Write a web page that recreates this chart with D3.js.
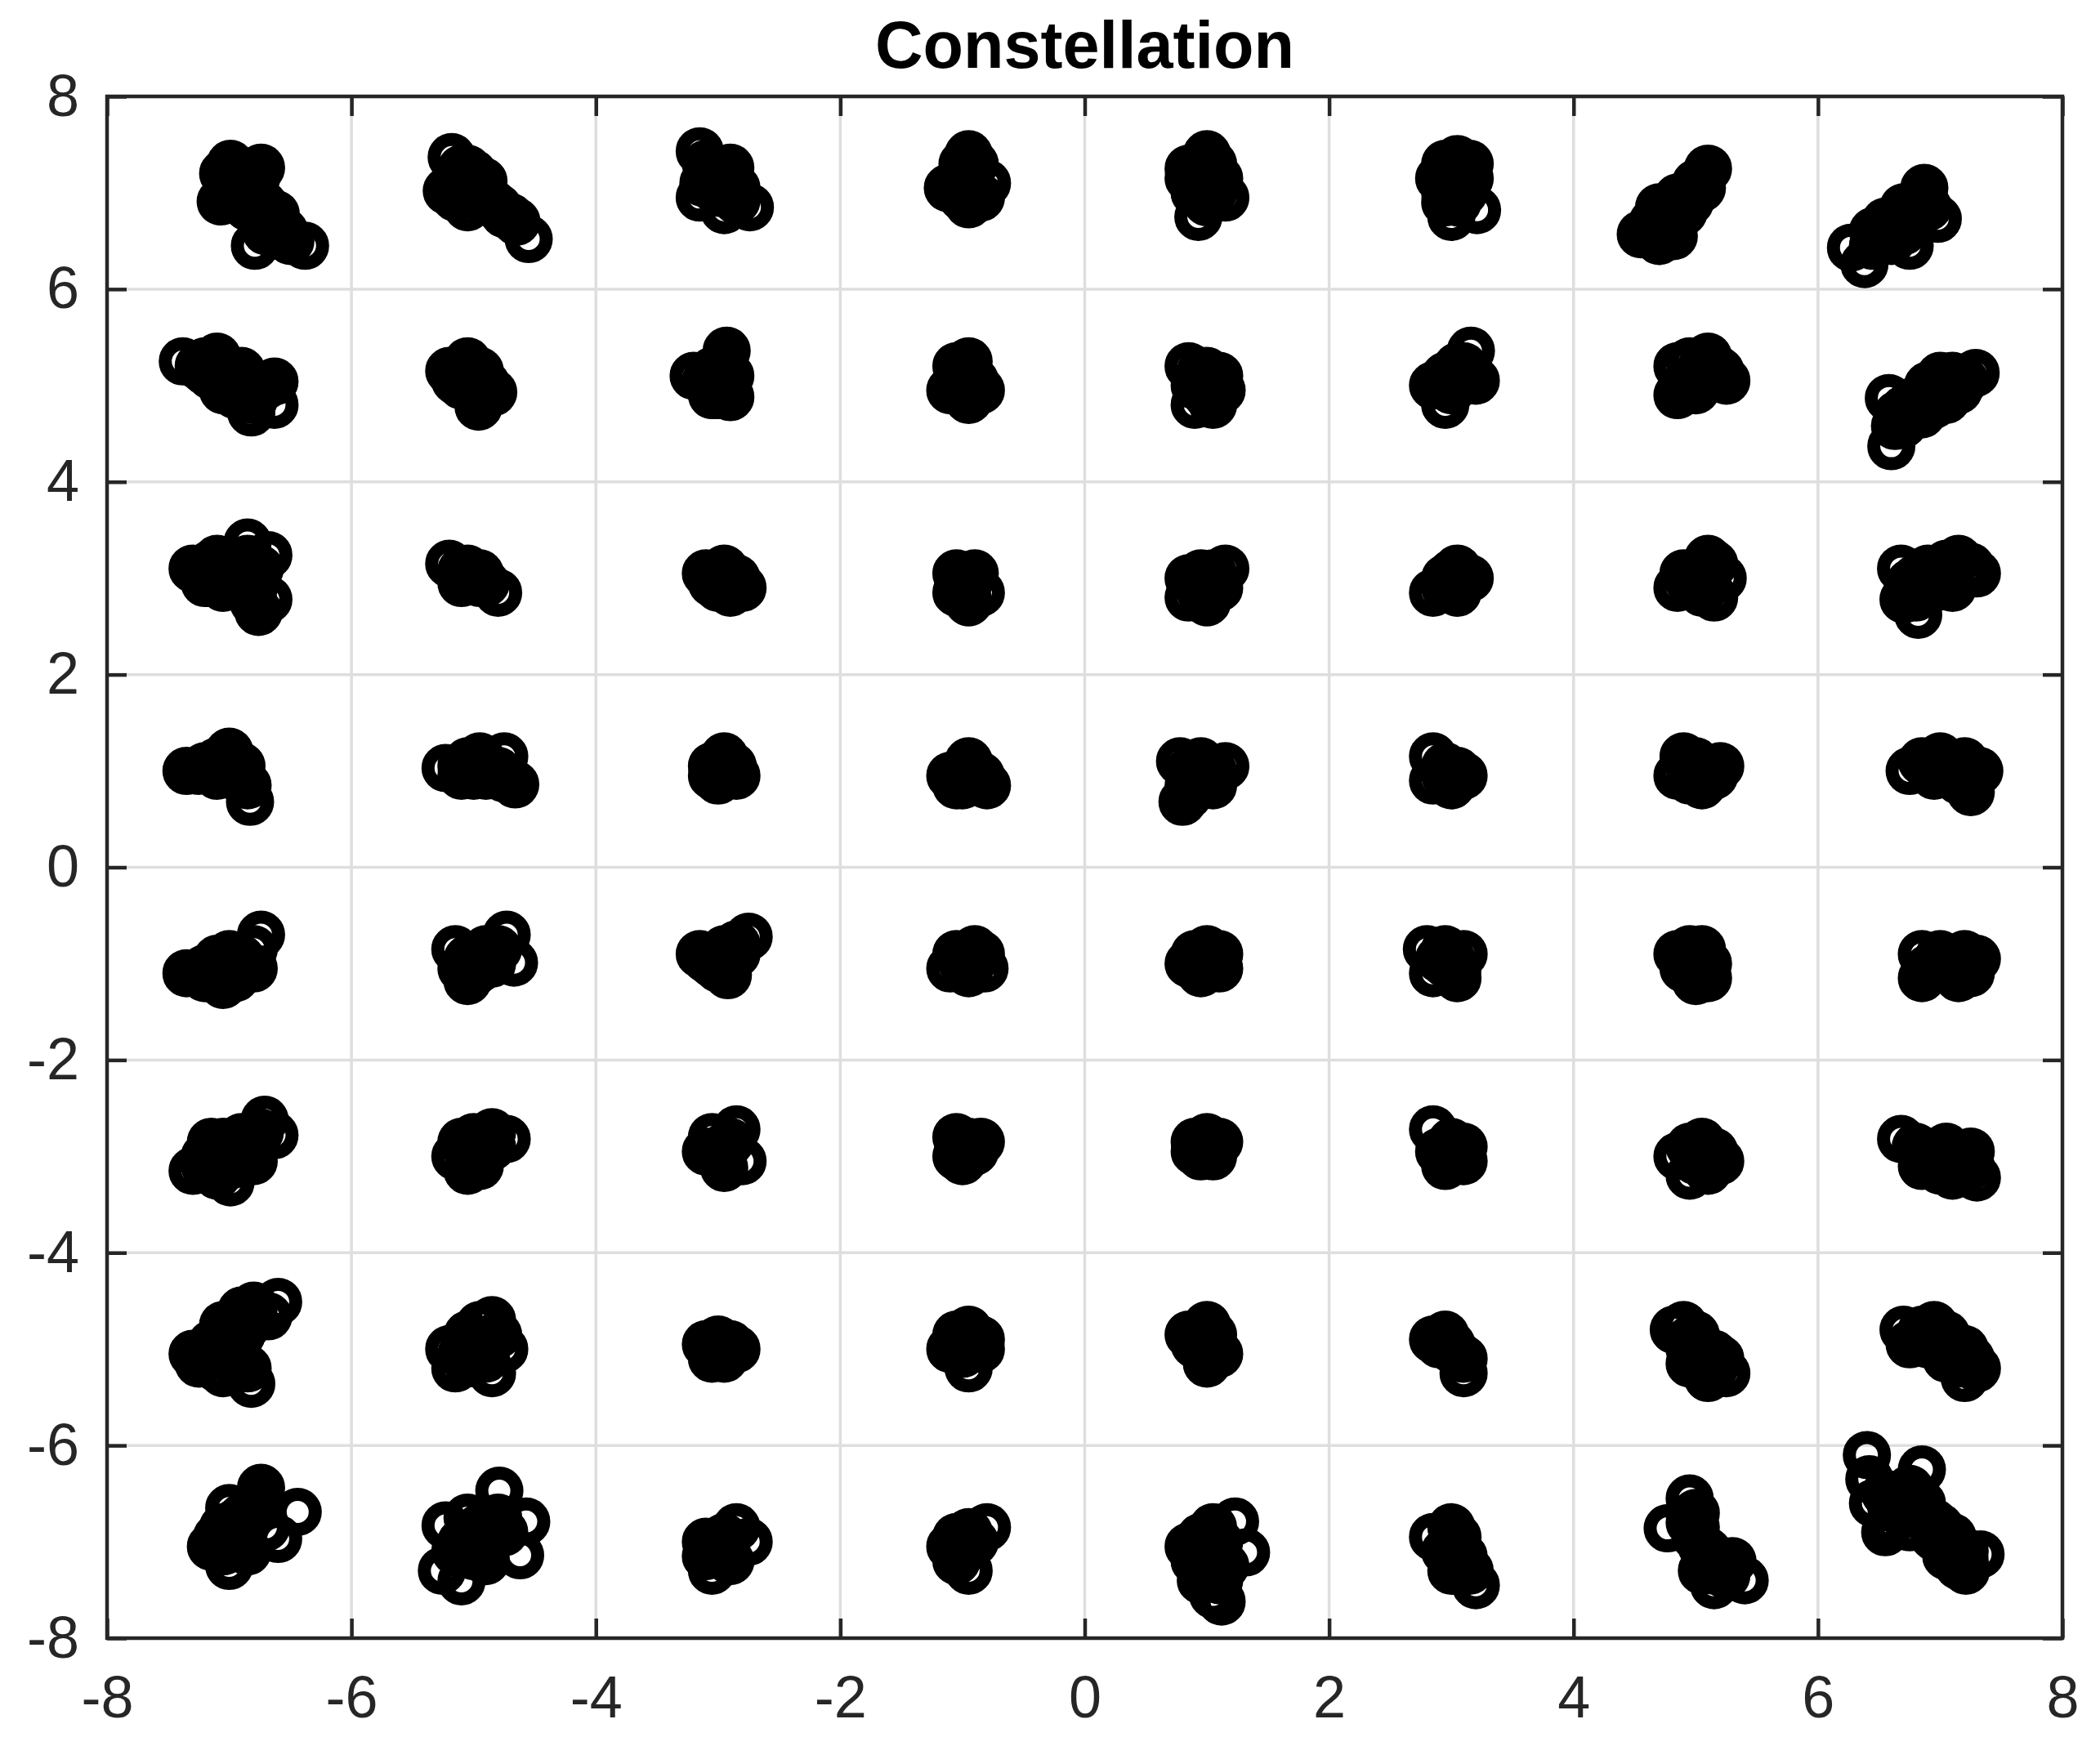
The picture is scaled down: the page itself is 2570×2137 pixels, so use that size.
<!DOCTYPE html>
<html>
<head>
<meta charset="utf-8">
<script src="https://cdn.jsdelivr.net/npm/d3@7"></script>
<style>
  html, body { margin: 0; padding: 0; background: #ffffff; }
  svg { display: block; }
</style>
</head>
<body>
<svg id="chart" width="2570" height="2137"></svg>
<script>
// ---------------- data ----------------
const chartTitle = "Constellation";
const xTicks = [-8, -6, -4, -2, 0, 2, 4, 6, 8];
const yTicks = [-8, -6, -4, -2, 0, 2, 4, 6, 8];
const xDomain = [-8, 8];
const yDomain = [-8, 8];

// received symbols, grouped by constellation row (I/Q pairs)
const rowPlus7 = [
  [-6.99,7.30],[-6.74,7.26],[-7.05,7.20],[-6.95,7.15],[-7.07,6.91],[-6.90,7.05],[-7.02,6.95],[-6.80,6.98],
  [-6.72,6.88],[-6.78,7.15],[-6.62,6.78],[-6.79,6.45],[-6.38,6.45],[-6.55,6.60],[-6.66,6.66],
  [-7.00,7.10],[-6.88,7.18],[-6.85,6.85],[-6.90,6.95],[-7.00,7.02],[-6.70,6.75],[-6.60,6.55],[-6.70,6.60],
  [-6.50,6.50],[-6.95,7.25],[-6.80,7.08],
  [-5.18,7.37],[-5.22,7.02],[-5.10,7.15],[-5.00,7.05],[-4.95,6.95],[-4.85,6.90],[-5.05,6.85],[-4.75,6.78],
  [-4.65,6.70],[-4.55,6.52],[-5.15,6.95],[-4.92,7.12],[-5.05,7.25],
  [-5.10,7.25],[-5.15,7.10],[-5.05,7.00],[-4.95,7.08],[-4.90,6.95],[-4.80,6.85],[-4.70,6.75],[-5.00,7.20],
  [-3.15,7.43],[-3.12,7.10],[-3.15,6.95],[-3.00,7.00],[-2.95,7.15],[-2.90,7.26],[-2.85,6.92],[-2.74,6.85],
  [-3.05,7.25],[-2.95,6.82],[-3.05,7.10],[-3.00,7.20],[-2.95,7.00],[-3.10,7.30],[-2.85,7.05],
  [-1.05,7.10],[-0.95,7.40],[-0.90,7.30],[-1.00,7.20],[-1.12,7.05],[-0.85,6.95],[-0.95,6.88],[-0.80,7.10],[-1.00,6.95],
  [-1.00,7.05],[-0.95,7.15],[-0.90,7.00],[-1.00,7.30],[-0.95,7.05],
  [0.85,7.25],[1.00,7.40],[1.05,7.30],[0.95,7.10],[0.90,7.00],[1.05,7.00],[1.15,6.95],[0.93,6.75],[0.85,7.15],[1.10,7.15],
  [1.00,7.20],[0.95,7.05],[1.00,6.90],[1.05,7.10],[0.90,7.20],
  [2.95,7.30],[3.05,7.35],[3.15,7.30],[2.90,7.15],[3.00,7.05],[2.95,6.90],[3.10,7.00],[3.00,6.75],[3.21,6.82],[3.15,7.15],
  [3.05,7.20],[3.00,7.15],[3.10,7.10],[3.05,6.90],[2.95,7.00],
  [4.55,6.57],[4.70,6.50],[4.82,6.55],[4.75,6.70],[4.70,6.85],[4.85,6.95],[4.95,7.00],[4.90,6.80],[5.00,7.10],
  [5.10,7.25],[5.05,7.15],[4.80,6.65],[4.65,6.60],[4.75,6.60],[4.85,6.85],[4.95,6.90],[5.00,7.00],[4.80,6.75],
  [4.65,6.70],[5.05,7.05],
  [6.27,6.43],[6.38,6.26],[6.50,6.55],[6.60,6.60],[6.75,6.45],[6.65,6.75],[6.80,6.90],[6.87,7.05],[6.98,6.73],
  [6.75,6.70],[6.55,6.70],[6.85,6.95],[6.45,6.45],[6.60,6.50],[6.70,6.60],[6.80,6.75],[6.90,6.85],[6.45,6.60],[6.70,6.85]
];
const rowPlus5 = [
  [-7.38,5.25],[-7.20,5.25],[-7.10,5.30],[-7.15,5.10],[-7.00,5.05],[-6.90,5.15],[-6.85,4.95],[-7.05,4.95],
  [-6.63,5.04],[-6.63,4.80],[-6.82,4.72],[-7.20,5.15],[-6.95,4.90],
  [-7.25,5.20],[-7.10,5.20],[-7.00,5.15],[-6.95,5.05],[-6.85,5.05],[-6.75,4.95],[-6.80,4.85],[-7.05,5.10],[-6.70,5.00],
  [-5.20,5.15],[-5.05,5.25],[-4.95,5.15],[-5.10,5.00],[-4.84,4.93],[-4.90,5.02],[-4.96,4.78],[-5.15,5.05],
  [-5.05,5.10],[-5.00,5.00],[-5.00,5.15],[-4.95,4.90],[-5.10,5.10],
  [-3.20,5.10],[-3.05,5.15],[-2.93,5.36],[-2.90,5.10],[-3.00,4.95],[-2.90,4.88],[-3.05,4.90],[-2.95,5.00],
  [-3.00,5.05],[-2.95,5.15],[-3.10,5.05],[-2.95,5.25],[-3.00,4.90],
  [-1.05,5.20],[-0.95,5.25],[-1.05,5.00],[-0.90,5.05],[-0.85,4.95],[-0.95,4.85],[-1.10,4.95],[-1.00,5.10],
  [-1.00,5.05],[-0.95,5.10],[-1.00,4.95],[-0.95,5.00],
  [0.85,5.20],[1.00,5.15],[1.10,5.10],[0.90,5.00],[1.05,4.95],[0.90,4.80],[1.05,4.80],[1.12,4.95],
  [0.95,5.05],[1.00,4.90],[1.05,5.05],[0.95,5.15],
  [2.85,5.00],[2.95,5.10],[3.05,5.20],[3.16,5.36],[3.10,5.05],[3.00,4.95],[2.95,4.80],[3.20,5.05],[3.05,5.15],
  [3.05,5.05],[3.00,5.10],[3.10,5.20],[2.95,5.00],
  [4.85,5.20],[4.95,5.25],[5.10,5.30],[5.20,5.15],[5.05,5.05],[4.90,5.00],[4.85,4.90],[5.00,4.95],[5.25,5.05],[5.15,5.20],
  [5.00,5.10],[5.05,5.20],[5.10,5.10],[4.95,5.05],
  [6.60,4.37],[6.58,4.87],[6.63,4.58],[6.70,4.75],[6.85,4.70],[6.80,4.85],[6.90,5.00],[7.00,5.10],[7.10,5.10],
  [7.15,4.95],[7.29,5.13],[7.05,4.85],[6.95,4.80],
  [6.75,4.80],[6.90,4.90],[7.00,4.95],[7.10,5.00],[7.20,5.05],[6.70,4.60],[6.65,4.70]
];
const rowPlus3 = [
  [-7.30,3.10],[-7.15,3.15],[-7.10,3.20],[-7.00,3.05],[-6.85,3.37],[-6.85,3.20],[-7.20,2.95],[-6.90,2.95],
  [-6.68,3.24],[-6.68,2.78],[-6.76,2.65],[-7.05,2.90],
  [-7.20,3.10],[-7.05,3.10],[-6.95,3.15],[-6.95,3.00],[-6.85,3.05],[-6.80,2.90],[-6.75,3.10],[-7.10,3.00],[-6.80,2.75],
  [-5.20,3.15],[-5.05,3.10],[-4.95,3.05],[-5.10,2.95],[-4.90,2.95],[-4.80,2.85],[-5.00,3.00],
  [-5.10,3.08],[-5.00,3.05],[-4.95,2.95],
  [-3.10,3.05],[-2.95,3.10],[-2.85,3.00],[-3.00,2.90],[-2.90,2.85],[-2.80,2.90],[-3.05,2.95],
  [-2.95,3.00],[-3.00,3.00],[-2.90,2.95],
  [-1.05,3.05],[-0.90,3.05],[-1.00,2.90],[-0.95,2.75],[-0.85,2.85],[-1.05,2.85],[-0.95,2.95],[-1.00,3.00],
  [0.85,3.00],[0.95,2.95],[1.05,3.05],[1.15,3.10],[0.85,2.80],[1.00,2.75],[1.10,2.90],[0.95,3.05],
  [1.00,2.90],[0.95,2.85],[1.05,2.95],
  [2.85,2.85],[2.95,3.00],[3.05,3.10],[3.15,3.00],[3.05,2.85],[2.95,2.90],[3.00,3.05],[3.00,2.95],[3.05,3.00],
  [4.85,2.90],[4.90,3.05],[5.00,3.05],[5.10,3.20],[5.15,3.15],[5.22,3.00],[5.05,2.85],[5.15,2.80],[4.95,2.95],
  [5.05,3.00],[5.10,3.05],[5.00,2.90],
  [6.68,3.10],[6.70,2.78],[6.82,2.62],[6.85,2.90],[6.95,3.05],[7.05,3.15],[7.15,3.20],[7.25,3.12],[7.30,3.05],
  [7.00,2.95],[7.10,2.90],[6.90,3.10],
  [6.80,2.80],[6.80,3.00],[6.95,2.90],[7.05,3.05],[7.20,3.05],[6.75,2.95]
];
const rowPlus1 = [
  [-7.35,1.00],[-7.20,1.05],[-7.10,1.10],[-7.00,1.20],[-6.90,1.05],[-6.95,0.95],[-6.85,0.85],[-6.83,0.68],[-7.10,0.95],
  [-7.10,1.05],[-7.00,1.00],[-6.95,1.10],[-6.90,0.90],[-7.25,1.00],
  [-5.23,1.03],[-5.05,1.10],[-4.95,1.15],[-5.00,0.95],[-4.85,1.00],[-4.75,1.15],[-4.66,0.86],[-4.90,0.95],[-5.10,0.95],
  [-5.10,1.05],[-5.00,1.05],[-4.90,1.05],[-4.80,1.00],[-4.75,0.92],
  [-3.05,1.05],[-2.95,1.15],[-2.88,1.05],[-3.00,0.90],[-2.85,0.95],[-3.05,0.95],[-2.95,1.00],[-3.00,1.00],
  [-1.10,0.95],[-0.95,1.10],[-0.90,1.00],[-1.00,0.85],[-0.80,0.85],[-1.05,0.85],[-0.85,0.95],
  [-0.95,0.95],[-1.00,1.00],[-0.90,0.90],
  [0.78,1.10],[0.80,0.68],[0.95,1.10],[1.00,1.00],[1.05,0.85],[1.15,1.05],[0.90,0.95],[0.85,0.85],
  [0.90,1.05],[1.00,0.90],[1.05,1.00],[0.85,1.00],[0.85,0.75],
  [2.85,1.15],[2.95,1.05],[3.05,1.00],[2.85,0.90],[3.00,0.85],[3.10,0.95],[2.95,0.95],[3.00,1.00],
  [4.90,1.15],[5.00,1.10],[4.85,0.95],[4.95,0.90],[5.05,0.85],[5.15,0.95],[5.20,1.05],[5.05,1.05],
  [5.00,1.00],[5.10,1.00],[4.95,1.05],
  [6.75,1.00],[6.85,1.10],[7.00,1.15],[7.10,1.05],[7.20,1.10],[7.32,1.00],[6.95,0.95],[7.15,0.90],[7.25,0.78],[7.05,1.00],
  [6.90,1.05],[7.00,1.05],[7.10,1.00],[7.20,1.00],[7.25,0.90]
];
const rowMinus1 = [
  [-7.35,-1.10],[-7.20,-1.05],[-7.10,-0.95],[-7.00,-0.90],[-6.90,-0.95],[-6.95,-1.15],[-7.05,-1.22],[-6.80,-1.05],
  [-6.74,-0.70],[-7.20,-1.15],
  [-7.25,-1.10],[-7.10,-1.05],[-7.00,-1.05],[-6.90,-1.05],[-7.05,-1.00],[-6.80,-0.85],
  [-5.15,-0.85],[-5.10,-1.05],[-5.05,-1.18],[-4.95,-0.95],[-4.85,-1.00],[-4.73,-0.70],[-4.67,-0.99],[-5.00,-1.10],[-4.90,-0.85],
  [-5.05,-0.95],[-4.95,-1.05],[-4.85,-0.90],[-4.80,-0.85],[-5.00,-1.00],
  [-3.15,-0.90],[-3.05,-1.00],[-2.95,-0.85],[-2.85,-0.80],[-2.75,-0.72],[-2.95,-1.05],[-3.10,-0.95],[-2.92,-1.12],
  [-3.00,-0.95],[-2.90,-0.90],[-2.85,-0.90],[-3.00,-1.05],
  [-1.10,-1.05],[-1.05,-0.90],[-0.90,-0.85],[-0.85,-0.90],[-0.82,-1.05],[-1.00,-1.00],[-0.95,-1.10],
  [-1.00,-0.95],[-0.95,-0.95],
  [0.85,-1.00],[0.90,-0.90],[1.00,-0.85],[1.10,-0.90],[1.00,-1.05],[1.10,-1.05],[0.95,-1.10],[1.00,-0.95],[0.95,-1.00],
  [2.80,-0.85],[2.95,-0.85],[3.10,-0.90],[3.05,-1.05],[2.85,-1.10],[3.05,-1.15],[2.95,-1.00],[3.00,-0.95],[2.90,-0.95],
  [4.85,-0.90],[4.95,-0.85],[5.05,-0.85],[5.10,-1.00],[5.00,-1.10],[5.10,-1.15],[4.90,-1.05],[5.00,-1.18],
  [5.00,-1.00],[4.95,-0.95],[5.05,-1.05],
  [6.85,-0.90],[6.85,-1.15],[7.00,-1.05],[7.10,-0.95],[7.20,-0.90],[7.30,-0.95],[7.15,-1.15],[7.00,-0.90],[7.25,-1.10],
  [6.95,-1.00],[7.10,-1.05],[7.20,-1.00],[6.90,-1.05]
];
const rowMinus3 = [
  [-7.30,-3.15],[-7.20,-3.00],[-7.15,-2.85],[-7.05,-2.85],[-6.95,-2.95],[-6.85,-2.90],[-7.00,-3.10],[-7.10,-3.20],
  [-6.80,-3.05],[-6.71,-2.62],[-6.63,-2.78],[-6.99,-3.27],[-6.90,-2.80],
  [-7.20,-3.10],[-7.10,-3.00],[-7.00,-2.95],[-6.90,-3.05],[-6.80,-2.85],[-7.10,-3.10],[-6.75,-2.75],
  [-5.15,-3.00],[-5.10,-2.85],[-5.00,-2.80],[-4.95,-2.95],[-4.85,-2.75],[-4.73,-2.82],[-5.05,-3.15],[-4.95,-3.10],
  [-5.05,-2.95],[-4.95,-2.85],[-5.00,-3.05],[-4.85,-2.90],
  [-3.05,-2.80],[-2.95,-2.90],[-2.85,-2.72],[-3.00,-3.00],[-2.95,-3.12],[-2.80,-3.05],[-3.10,-2.95],
  [-2.95,-2.95],[-2.90,-2.85],
  [-1.05,-2.80],[-0.95,-2.85],[-0.90,-2.95],[-1.05,-3.00],[-0.85,-2.85],[-1.00,-3.05],[-0.95,-2.95],[-1.00,-2.90],
  [0.90,-2.85],[1.00,-2.80],[1.10,-2.85],[0.95,-3.00],[1.05,-3.00],[0.90,-2.95],[1.00,-2.90],
  [2.85,-2.72],[2.90,-2.95],[3.00,-2.95],[3.10,-3.05],[3.05,-2.90],[2.95,-3.10],[3.10,-2.90],[3.00,-3.00],[3.00,-2.85],
  [4.85,-3.00],[4.95,-2.90],[5.05,-2.85],[5.15,-2.95],[5.20,-3.05],[5.05,-3.05],[4.95,-3.20],[5.10,-3.15],
  [5.05,-2.95],[5.00,-3.05],
  [6.68,-2.82],[6.85,-2.95],[6.95,-3.05],[7.05,-2.90],[7.10,-3.00],[7.20,-3.05],[7.25,-3.10],[7.30,-3.22],
  [7.10,-3.20],[7.00,-3.15],[6.85,-3.10],[7.25,-2.95],
  [6.95,-2.95],[7.05,-3.05],[7.15,-3.10],[7.20,-3.15],[6.80,-2.90]
];
const rowMinus5 = [
  [-7.30,-5.05],[-7.25,-5.15],[-7.10,-5.20],[-7.15,-4.95],[-7.00,-4.90],[-7.05,-4.75],[-6.90,-4.60],[-6.80,-4.55],
  [-6.60,-4.51],[-6.90,-4.85],[-6.95,-5.05],[-6.85,-5.20],[-6.82,-5.36],[-7.05,-5.25],[-6.68,-4.66],
  [-7.20,-5.10],[-7.10,-5.05],[-7.00,-5.10],[-6.95,-4.90],[-6.85,-4.75],[-6.90,-5.15],[-7.00,-4.80],[-6.80,-4.65],
  [-5.20,-5.00],[-5.15,-5.20],[-5.05,-4.85],[-4.95,-4.75],[-4.85,-4.70],[-4.80,-4.85],[-4.75,-5.00],[-4.90,-5.10],
  [-5.05,-5.15],[-4.85,-5.25],[-5.00,-4.95],
  [-5.10,-5.05],[-5.00,-5.05],[-4.90,-4.90],[-4.95,-5.00],[-5.05,-4.95],
  [-3.10,-4.95],[-3.00,-4.90],[-2.90,-4.95],[-2.85,-5.00],[-3.05,-5.10],[-2.95,-5.10],[-3.00,-5.00],
  [-1.05,-4.85],[-0.95,-4.80],[-0.85,-4.90],[-1.00,-5.05],[-0.95,-5.20],[-1.10,-5.00],[-0.85,-5.00],
  [-0.95,-4.95],[-1.00,-4.90],
  [0.85,-4.85],[1.00,-4.75],[1.05,-4.85],[0.95,-5.00],[1.00,-5.15],[1.10,-5.05],[0.90,-4.95],[1.00,-4.95],[1.00,-5.05],
  [2.85,-4.90],[2.95,-4.85],[3.00,-4.95],[3.05,-5.05],[3.10,-5.10],[3.10,-5.25],[2.90,-4.95],[3.00,-5.00],
  [4.82,-4.80],[4.90,-4.75],[4.95,-4.90],[5.00,-5.00],[4.95,-5.15],[5.05,-5.10],[5.10,-5.20],[5.20,-5.10],
  [5.25,-5.25],[5.10,-5.30],[5.15,-5.05],[5.00,-4.85],
  [5.05,-5.00],[5.10,-5.10],[5.15,-5.20],[4.95,-5.00],
  [6.70,-4.80],[6.75,-4.95],[6.85,-4.80],[6.95,-4.75],[7.05,-4.85],[7.10,-4.95],[7.20,-5.00],[7.25,-5.10],
  [7.30,-5.20],[7.20,-5.30],[7.05,-5.10],[6.90,-4.95],[7.15,-5.15],
  [6.90,-4.85],[7.00,-4.90],[7.10,-5.05],[7.20,-5.15],[6.80,-4.90]
];
const rowMinus7 = [
  [-7.15,-7.05],[-7.05,-6.85],[-7.00,-6.65],[-6.95,-6.80],[-6.85,-6.70],[-6.75,-6.55],[-6.74,-6.44],[-6.90,-6.95],
  [-7.05,-7.10],[-7.00,-7.25],[-6.85,-7.10],[-6.60,-6.97],[-6.44,-6.69],[-6.70,-6.85],
  [-6.95,-6.90],[-6.90,-6.75],[-6.80,-6.70],[-7.00,-6.95],[-6.90,-7.05],[-6.80,-6.60],[-7.10,-6.95],
  [-5.26,-7.30],[-5.23,-6.83],[-5.10,-7.00],[-5.05,-6.75],[-4.95,-6.85],[-4.79,-6.47],[-4.80,-6.75],[-4.85,-6.95],
  [-4.62,-7.14],[-4.57,-6.79],[-5.00,-7.15],[-5.10,-7.41],[-4.90,-7.20],[-5.05,-6.95],[-4.75,-6.90],
  [-5.00,-7.00],[-4.95,-6.95],[-5.05,-7.05],[-4.90,-7.05],[-5.15,-7.10],[-4.90,-6.80],
  [-3.10,-7.00],[-3.00,-7.05],[-2.95,-6.95],[-2.85,-6.85],[-2.75,-7.00],[-2.95,-7.15],[-3.05,-7.30],[-2.90,-7.20],[-3.10,-7.15],
  [-3.00,-7.10],[-2.95,-7.05],
  [-1.05,-6.95],[-1.10,-7.05],[-0.95,-6.90],[-0.80,-6.85],[-0.90,-7.00],[-1.05,-7.20],[-0.95,-7.30],[-1.00,-7.10],
  [-1.00,-7.00],[-0.95,-7.05],
  [0.85,-7.05],[0.95,-6.95],[1.05,-6.85],[1.23,-6.79],[1.32,-7.11],[0.90,-7.20],[1.00,-7.15],[1.05,-7.35],
  [1.12,-7.62],[1.15,-7.25],[0.95,-7.40],[1.05,-7.55],
  [1.00,-7.05],[1.10,-7.00],[1.05,-7.20],[1.10,-7.40],[1.00,-7.30],
  [2.85,-6.95],[3.00,-6.85],[3.05,-6.95],[2.95,-7.10],[3.05,-7.20],[3.15,-7.30],[3.10,-7.15],[3.20,-7.45],[3.00,-7.30],
  [3.05,-7.05],[3.10,-7.30],
  [4.77,-6.86],[4.95,-6.55],[4.95,-6.80],[5.00,-6.95],[5.05,-7.05],[5.10,-7.20],[5.20,-7.25],[5.25,-7.35],
  [5.30,-7.20],[5.40,-7.40],[5.15,-7.45],[5.05,-7.30],[5.00,-6.70],
  [5.10,-7.10],[5.15,-7.30],[5.00,-6.85],[5.25,-7.30],
  [6.40,-6.10],[6.42,-6.35],[6.45,-6.60],[6.55,-6.90],[6.65,-6.55],[6.75,-6.45],[6.85,-6.25],[6.85,-6.60],
  [6.90,-6.75],[6.95,-6.95],[7.00,-6.85],[7.05,-7.00],[7.10,-7.05],[7.20,-7.10],[7.21,-7.30],[7.33,-7.13],
  [7.15,-7.25],[6.75,-6.85],[6.60,-6.80],
  [6.55,-6.50],[6.60,-6.65],[6.80,-6.70],[6.95,-6.80],[7.10,-6.95],[7.20,-7.20],[7.05,-7.15],[6.70,-6.60]
];

// ---------------- layout ----------------
const W = 2570, H = 2137;
const plot = { left: 131, right: 2524, top: 118, bottom: 2005 };
const axisColor = "#262626";
const gridColor = "#dedede";
const tickLen = 24;
const fontFamily = "'Liberation Sans', Arial, Helvetica, sans-serif";

const svg = d3.select("#chart");
svg.append("rect").attr("width", W).attr("height", H).attr("fill", "#ffffff");

const x = d3.scaleLinear().domain(xDomain).range([plot.left, plot.right]);
const y = d3.scaleLinear().domain(yDomain).range([plot.bottom, plot.top]);

// grid
const grid = svg.append("g").attr("class", "grid");
grid.selectAll("line.gx").data(xTicks.filter(t => t > xDomain[0] && t < xDomain[1])).join("line")
  .attr("class", "gx")
  .attr("x1", d => x(d)).attr("x2", d => x(d))
  .attr("y1", plot.top).attr("y2", plot.bottom)
  .attr("stroke", gridColor).attr("stroke-width", 3.5);
grid.selectAll("line.gy").data(yTicks.filter(t => t > yDomain[0] && t < yDomain[1])).join("line")
  .attr("class", "gy")
  .attr("y1", d => y(d)).attr("y2", d => y(d))
  .attr("x1", plot.left).attr("x2", plot.right)
  .attr("stroke", gridColor).attr("stroke-width", 3.5);

// data
const allPoints = [].concat(rowPlus7, rowPlus5, rowPlus3, rowPlus1, rowMinus1, rowMinus3, rowMinus5, rowMinus7);
svg.append("g").attr("class", "points")
  .selectAll("circle").data(allPoints).join("circle")
  .attr("cx", d => x(d[0]))
  .attr("cy", d => y(d[1]))
  .attr("r", 21.5)
  .attr("fill", "none")
  .attr("stroke", "#000000")
  .attr("stroke-width", 16);

// axes
function styleAxis(g) {
  g.select(".domain").remove();
  g.selectAll(".tick line").attr("stroke", axisColor).attr("stroke-width", 4.5);
  g.selectAll(".tick text")
    .attr("fill", axisColor)
    .attr("font-family", fontFamily)
    .attr("font-size", 72);
}
const fmt = d => String(d).replace("\u2212", "-");

svg.append("g").attr("transform", `translate(0,${plot.bottom})`)
  .call(d3.axisBottom(x).tickValues(xTicks).tickSizeInner(-tickLen).tickSizeOuter(0).tickPadding(46).tickFormat(fmt))
  .call(styleAxis);
svg.append("g").attr("transform", `translate(0,${plot.top})`)
  .call(d3.axisTop(x).tickValues(xTicks).tickSizeInner(-tickLen).tickSizeOuter(0).tickFormat(""))
  .call(styleAxis);
svg.append("g").attr("transform", `translate(${plot.left},0)`)
  .call(d3.axisLeft(y).tickValues(yTicks).tickSizeInner(-tickLen).tickSizeOuter(0).tickPadding(34).tickFormat(fmt))
  .call(styleAxis);
svg.append("g").attr("transform", `translate(${plot.right},0)`)
  .call(d3.axisRight(y).tickValues(yTicks).tickSizeInner(-tickLen).tickSizeOuter(0).tickFormat(""))
  .call(styleAxis);

// box
svg.append("rect")
  .attr("x", plot.left).attr("y", plot.top)
  .attr("width", plot.right - plot.left).attr("height", plot.bottom - plot.top)
  .attr("fill", "none").attr("stroke", axisColor).attr("stroke-width", 4.5);

// title
svg.append("text")
  .attr("x", (plot.left + plot.right) / 2)
  .attr("y", 83)
  .attr("text-anchor", "middle")
  .attr("font-family", fontFamily)
  .attr("font-weight", "bold")
  .attr("font-size", 81)
  .attr("fill", "#000000")
  .text(chartTitle);
</script>
</body>
</html>
